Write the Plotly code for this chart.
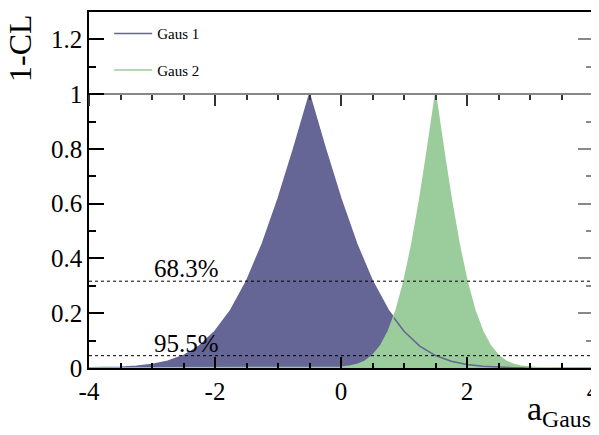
import plotly.graph_objects as go

# 1-CL scan values
gaus1_x = [-4.0, -3.75, -3.5, -3.25, -3.0, -2.75, -2.5, -2.25, -2.0, -1.75, -1.5, -1.25,
           -1.0, -0.75, -0.5, -0.25, 0.0, 0.25, 0.5, 0.75, 1.0, 1.25, 1.5, 1.75,
           2.0, 2.25, 2.5, 2.75, 3.0, 3.25, 3.5, 3.75, 4.0]
gaus1_cl = [0.0005, 0.0012, 0.0027, 0.006, 0.0124, 0.0244, 0.0455, 0.080, 0.134, 0.211, 0.317, 0.453,
            0.617, 0.803, 1.0, 0.803, 0.617, 0.453, 0.317, 0.211, 0.134, 0.080, 0.0455, 0.0244,
            0.0124, 0.006, 0.0027, 0.0012, 0.0005, 0.0002, 0.0001, 0.0, 0.0]

gaus2_x = [-4.0, -0.25, -0.125, 0.0, 0.125, 0.25, 0.375, 0.5, 0.625, 0.75, 0.875, 1.0, 1.125,
           1.25, 1.375, 1.5, 1.625, 1.75, 1.875, 2.0, 2.125, 2.25, 2.375, 2.5, 2.625,
           2.75, 2.875, 3.0, 3.125, 3.25, 4.0]
gaus2_cl = [0.0, 0.0005, 0.0012, 0.0027, 0.006, 0.0124, 0.0244, 0.0455, 0.080, 0.134, 0.211, 0.317, 0.453,
            0.617, 0.803, 1.0, 0.803, 0.617, 0.453, 0.317, 0.211, 0.134, 0.080, 0.0455, 0.0244,
            0.0124, 0.006, 0.0027, 0.0012, 0.0005, 0.0]

cl_levels = [0.317, 0.045]
cl_labels = ["68.3%", "95.5%"]

x_ticks = [-4, -2, 0, 2, 4]
x_ticklabels = ["-4", "-2", "0", "2", "4"]

purple = "#656596"
green = "#9bcc9b"
serif = "Liberation Serif"

fig = go.Figure()

fig.add_trace(go.Scatter(x=gaus1_x, y=gaus1_cl, fill="tozeroy", fillcolor=purple,
                         line=dict(color=purple, width=0), showlegend=False, hoverinfo="skip"))
fig.add_trace(go.Scatter(x=gaus2_x, y=gaus2_cl, fill="tozeroy", fillcolor=green,
                         line=dict(color=green, width=0), showlegend=False, hoverinfo="skip"))
fig.add_trace(go.Scatter(x=gaus1_x, y=gaus1_cl, mode="lines", name="Gaus 1",
                         line=dict(color=purple, width=1.5), legendgroup="g1"))
fig.add_trace(go.Scatter(x=gaus2_x, y=gaus2_cl, mode="lines", name="Gaus 2",
                         line=dict(color=green, width=1.5), legendgroup="g2"))

# dummy traces so the extra axes exist
fig.add_trace(go.Scatter(x=[None], y=[None], xaxis="x2", showlegend=False, hoverinfo="skip"))
fig.add_trace(go.Scatter(x=[None], y=[None], yaxis="y2", showlegend=False, hoverinfo="skip"))

for lvl, lab in zip(cl_levels, cl_labels):
    fig.add_shape(type="line", xref="x domain", x0=0, x1=1, yref="y", y0=lvl, y1=lvl,
                  line=dict(color="black", width=1, dash="dot"))
    fig.add_annotation(x=-3.0, y=lvl, xref="x", yref="y", text=lab, showarrow=False,
                       xanchor="left", yanchor="bottom", yshift=-3,
                       font=dict(family=serif, size=25, color="black"))

fig.add_annotation(x=1.0, y=-0.12, xref="paper", yref="paper", text="a<sub>Gaus</sub>",
                   showarrow=False, xanchor="right", yanchor="middle",
                   font=dict(family=serif, size=34, color="black"))
fig.add_annotation(x=-0.137, y=1.0, xref="paper", yref="paper", text="1-CL",
                   showarrow=False, textangle=-90, xanchor="center", yanchor="top",
                   font=dict(family=serif, size=32, color="black"))

# page body adds an 8px offset; margins are set so the plot box lands where the reference has it
fig.update_layout(
    template="none",
    width=599, height=435,
    margin=dict(l=81, r=14, t=4, b=75),
    paper_bgcolor="white", plot_bgcolor="white",
    hovermode=False,
    font=dict(family=serif, color="black"),
    xaxis=dict(range=[-4, 4], tickmode="array", tickvals=x_ticks, ticktext=x_ticklabels,
               ticks="inside", ticklen=11, tickwidth=1.5, tickcolor="black",
               minor=dict(tick0=-4, dtick=0.5, ticks="inside", ticklen=5, tickcolor="black"),
               showline=True, linecolor="black", linewidth=1.5, mirror=True, automargin=False,
               ticklabeloverflow="allow",
               showgrid=False, zeroline=False, tickfont=dict(family=serif, size=25)),
    yaxis=dict(range=[0, 1.3], tick0=0, dtick=0.2, ticks="inside", ticklen=15, tickwidth=1.5,
               tickcolor="black", minor=dict(dtick=0.1, ticks="inside", ticklen=7, tickcolor="black"),
               showline=True, linecolor="black", linewidth=1.5, mirror=True, automargin=False,
               ticklabeloverflow="allow",
               showgrid=False, zeroline=False, tickfont=dict(family=serif, size=25)),
    xaxis2=dict(range=[-4, 4], overlaying="x", anchor="free", position=1 / 1.3, side="bottom",
                tick0=-4, dtick=2, ticks="outside", ticklen=11, tickwidth=1.5, tickcolor="#333",
                minor=dict(dtick=0.5, ticks="outside", ticklen=5, tickcolor="#333"),
                showline=True, linecolor="#888", linewidth=1.5, showticklabels=False,
                automargin=False, showgrid=False, zeroline=False),
    yaxis2=dict(range=[0, 1.3], overlaying="y", side="right", anchor="x", tick0=0, dtick=0.2,
                ticks="inside", ticklen=15, tickwidth=1.5, tickcolor="#888",
                minor=dict(dtick=0.1, ticks="inside", ticklen=7, tickcolor="#888"),
                showline=True, linecolor="black", linewidth=1.5,
                automargin=False, showticklabels=False, showgrid=False, zeroline=False),
    legend=dict(x=0.04, y=0.985, xanchor="left", yanchor="top", bgcolor="rgba(0,0,0,0)",
                traceorder="grouped", tracegroupgap=14, itemwidth=38,
                font=dict(family=serif, size=15, color="black")),
)

fig.write_html("out.html")
